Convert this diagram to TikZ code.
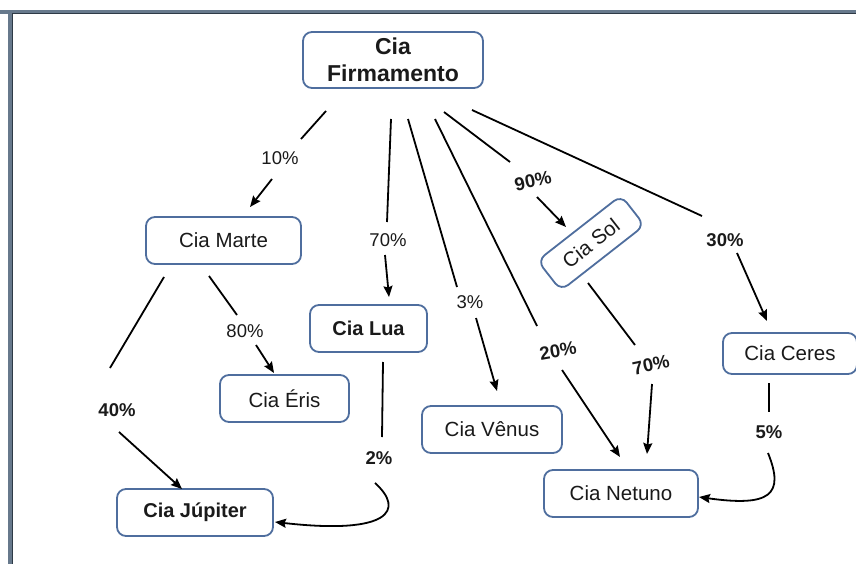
\documentclass[tikz,border=0pt]{standalone}
\usepackage{fontspec}
\setmainfont{Liberation Sans}
\usetikzlibrary{arrows.meta}
\definecolor{boxblue}{HTML}{4F6E9E}
\definecolor{framegray}{HTML}{67798C}
\definecolor{framedark}{HTML}{2E3A46}
\definecolor{txt}{HTML}{1A1A1A}
\tikzset{
  company/.style={draw=boxblue, line width=1.8pt, rounded corners=9pt, fill=white,
    inner sep=0pt, text=txt, font=\fontsize{20.5}{24}\selectfont, align=center},
  pct/.style={inner sep=0pt, text=txt, font=\fontsize{18.5}{21}\selectfont},
  pctb/.style={pct, font=\fontsize{18.5}{21}\selectfont\bfseries},
  link/.style={line width=1.8pt, black},
  arr/.style={link, -{Stealth[length=11pt,width=9pt,inset=1.5pt]}}
}
\begin{document}
\begin{tikzpicture}[x=1pt,y=-1pt]
\useasboundingbox (0,0) rectangle (856,564);
% window frame
\fill[framegray] (0,10) rectangle (856,14.5);
\fill[framegray] (8,10) rectangle (12.5,564);
\draw[framedark, line width=1pt] (12,564) -- (12,14) -- (856,14);

% companies
\node[company, minimum width=180, minimum height=56, font=\fontsize{23}{27}\selectfont\bfseries] (firm) at (393,60) {Cia\\Firmamento};
\node[company, minimum width=155, minimum height=47] (marte) at (223.5,240.5) {Cia Marte};
\node[company, minimum width=117, minimum height=47, font=\fontsize{20}{24}\selectfont\bfseries] (lua) at (368.5,328.5) {Cia Lua};
\node[company, minimum width=129, minimum height=47] (eris) at (284.5,398.5) {Cia Éris};
\node[company, minimum width=156, minimum height=47, font=\fontsize{20}{24}\selectfont\bfseries] (jupiter) at (195,512.5) {Cia Júpiter};
\node[company, minimum width=140, minimum height=47] (venus) at (492,429.5) {Cia Vênus};
\node[company, minimum width=154, minimum height=47] (netuno) at (621,493.5) {Cia Netuno};
\node[company, minimum width=134, minimum height=41] (ceres) at (790,353.5) {Cia Ceres};
\node[company, minimum width=106, minimum height=38, rotate=38] (sol) at (591,243) {Cia Sol};

% percentage labels
\node[pct] (l10) at (280,158) {10\%};
\node[pct] (l70a) at (388,240) {70\%};
\node[pct] (l3) at (470,302) {3\%};
\node[pctb, rotate=10] (l20) at (558,351) {20\%};
\node[pctb, rotate=12] (l90) at (533,181) {90\%};
\node[pctb] (l30) at (725,240) {30\%};
\node[pct] (l80) at (245,331) {80\%};
\node[pctb] (l40) at (117,410) {40\%};
\node[pctb] (l2) at (379,458) {2\%};
\node[pctb, rotate=12] (l70b) at (651,365) {70\%};
\node[pctb] (l5) at (769,432) {5\%};

% connector end points
\coordinate (fm1) at (326,111); \coordinate (fm2) at (301,139);
\coordinate (fm3) at (272,179); \coordinate (fm4) at (250,207);
\coordinate (fl1) at (391,119); \coordinate (fl2) at (387,222);
\coordinate (fl3) at (385,255); \coordinate (fl4) at (389,297);
\coordinate (fv1) at (408,119); \coordinate (fv2) at (457,287);
\coordinate (fv3) at (476,318); \coordinate (fv4) at (497,391);
\coordinate (fn1) at (435,119); \coordinate (fn2) at (537,326);
\coordinate (fn3) at (562,370); \coordinate (fn4) at (620,457);
\coordinate (fs1) at (444,112); \coordinate (fs2) at (510,162);
\coordinate (fs3) at (537,197); \coordinate (fs4) at (566,227);
\coordinate (fc1) at (472,110); \coordinate (fc2) at (702,216);
\coordinate (fc3) at (737,253); \coordinate (fc4) at (767,321);
\coordinate (mj1) at (164,277); \coordinate (mj2) at (110,368);
\coordinate (mj3) at (119,432); \coordinate (mj4) at (182,489);
\coordinate (me1) at (209,276); \coordinate (me2) at (237,315);
\coordinate (me3) at (256,345); \coordinate (me4) at (274,373);
\coordinate (lj1) at (383,362); \coordinate (lj2) at (382,437);
\coordinate (lj3) at (375,483); \coordinate (lj4) at (275,522);
\coordinate (sn1) at (588,283); \coordinate (sn2) at (635,345);
\coordinate (sn3) at (652,384); \coordinate (sn4) at (647,454);
\coordinate (cn1) at (769,383); \coordinate (cn2) at (769,412);
\coordinate (cn3) at (768,453); \coordinate (cn4) at (699,497);

% connectors
\draw[link] (fm1) -- (fm2); \draw[arr] (fm3) -- (fm4);
\draw[link] (fl1) -- (fl2); \draw[arr] (fl3) -- (fl4);
\draw[link] (fv1) -- (fv2); \draw[arr] (fv3) -- (fv4);
\draw[link] (fn1) -- (fn2); \draw[arr] (fn3) -- (fn4);
\draw[link] (fs1) -- (fs2); \draw[arr] (fs3) -- (fs4);
\draw[link] (fc1) -- (fc2); \draw[arr] (fc3) -- (fc4);
\draw[link] (mj1) -- (mj2); \draw[arr] (mj3) -- (mj4);
\draw[link] (me1) -- (me2); \draw[arr] (me3) -- (me4);
\draw[link] (lj1) -- (lj2);
\draw[arr] (lj3) .. controls (405,510) and (390,535) .. (lj4);
\draw[link] (sn1) -- (sn2); \draw[arr] (sn3) -- (sn4);
\draw[link] (cn1) -- (cn2);
\draw[arr] (cn3) .. controls (785,495) and (770,507) .. (cn4);
\end{tikzpicture}
\end{document}
